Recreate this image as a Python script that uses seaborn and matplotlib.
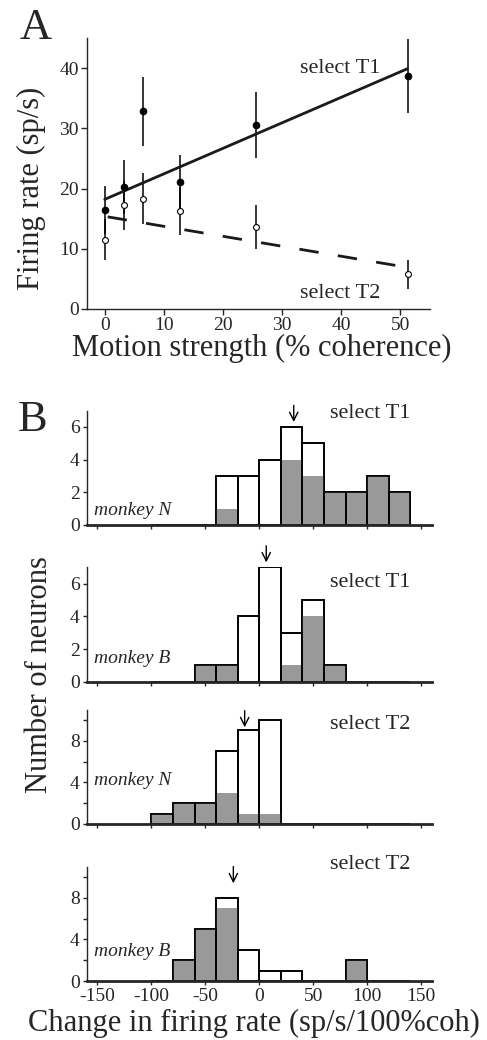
import matplotlib.pyplot as plt
import numpy as np
import seaborn as sns

sns.set_style('ticks')
plt.rcParams['font.family'] = ['Liberation Serif', 'DejaVu Serif']
plt.rcParams['axes.linewidth'] = 1.0

# Panel A: firing rate vs motion strength
coherence = [0, 3.2, 6.4, 12.8, 25.6, 51.2]
rate_t1 = [16.5, 20.3, 32.8, 21.1, 30.6, 38.7]
err_t1 = [4.0, 4.5, 5.8, 4.5, 5.5, 6.2]
rate_t2 = [11.5, 17.2, 18.3, 16.3, 13.6, 5.8]
err_t2 = [3.4, 4.1, 4.2, 4.0, 3.6, 2.4]
fit_x_t1 = [0, 51.2]
fit_y_t1 = [18.2, 39.9]
fit_x_t2 = [0.5, 51.2]
fit_y_t2 = [15.3, 6.9]

# Panel B: histograms of slope (bins of 20 sp/s/100%coh)
bin_edges = [-100, -80, -60, -40, -20, 0, 20, 40, 60, 80, 100, 120, 140]
n_t1_total = [0, 0, 0, 3, 3, 4, 6, 5, 2, 2, 3, 2]
n_t1_gray = [0, 0, 0, 1, 0, 0, 4, 3, 2, 2, 3, 2]
b_t1_total = [0, 0, 1, 1, 4, 7, 3, 5, 1, 0, 0, 0]
b_t1_gray = [0, 0, 1, 1, 0, 0, 1, 4, 1, 0, 0, 0]
n_t2_total = [1, 2, 2, 7, 9, 10, 0, 0, 0, 0, 0, 0]
n_t2_gray = [1, 2, 2, 3, 1, 1, 0, 0, 0, 0, 0, 0]
b_t2_total = [0, 2, 5, 8, 3, 1, 1, 0, 0, 2, 0, 0]
b_t2_gray = [0, 2, 5, 7, 0, 0, 0, 0, 0, 2, 0, 0]
arrow_x = [32, 6.5, -13.5, -24]
arrow_tip = [6.3, 7.3, 9.3, 9.4]
monkeys = ['monkey N', 'monkey B', 'monkey N', 'monkey B']
targets = ['select T1', 'select T1', 'select T2', 'select T2']

GRAY = '#999999'

fig = plt.figure(figsize=(4.87, 10.4), dpi=100)

# ---------------- Panel A ----------------
axA = fig.add_axes([0.1786, 0.7029, 0.7044, 0.2606])
axA.errorbar(coherence, rate_t1, yerr=err_t1, fmt='none', ecolor='black', elinewidth=1.1, capsize=0, zorder=2)
axA.errorbar(coherence, rate_t2, yerr=err_t2, fmt='none', ecolor='black', elinewidth=1.1, capsize=0, zorder=2)
sns.lineplot(x=fit_x_t1, y=fit_y_t1, ax=axA, color='#1a1a1a', linewidth=2.0, zorder=3)
sns.lineplot(x=fit_x_t2, y=fit_y_t2, ax=axA, color='#1a1a1a', linewidth=2.0, zorder=3,
             linestyle=(0, (7, 7)))
sns.scatterplot(x=coherence, y=rate_t1, ax=axA, color='black', s=22, edgecolor='black', linewidth=0.8, zorder=4)
sns.scatterplot(x=coherence, y=rate_t2, ax=axA, color='white', s=18, edgecolor='black', linewidth=0.8, zorder=4)
axA.set_xlim(-3, 55)
axA.set_ylim(0, 45)
axA.set_xticks([0, 10, 20, 30, 40, 50])
axA.set_yticks([0, 10, 20, 30, 40])
axA.tick_params(direction='out', length=4, width=1, labelsize=14, pad=2)
sns.despine(ax=axA)
axA.text(33, 40.0, 'select T1', fontsize=16, ha='left', va='center')
axA.text(33, 2.6, 'select T2', fontsize=16, ha='left', va='center')

fig.text(20 / 487, 1 - 39 / 1040, 'A', fontsize=32, ha='left', va='baseline')
fig.text(262 / 487, 1 - 348 / 1040, 'Motion strength (% coherence)', fontsize=22, ha='center', va='center')
fig.text(31 / 487, 1 - 188 / 1040, 'Firing rate (sp/s)', fontsize=22, ha='center', va='center', rotation=90)

# ---------------- Panel B ----------------
centers = (np.array(bin_edges[:-1]) + np.array(bin_edges[1:])) / 2
hist_rows = [
    (n_t1_total, n_t1_gray, 0.4952, 7, [0, 2, 4, 6], ['0', '2', '4', '6'], 0.13, 0.977),
    (b_t1_total, b_t1_gray, 0.3445, 7, [0, 2, 4, 6], ['0', '2', '4', '6'], 0.205, 0.863),
    (n_t2_total, n_t2_gray, 0.2077, 11, [0, 2, 4, 6, 8, 10], ['0', '', '4', '', '8', ''], 0.38, 0.868),
    (b_t2_total, b_t2_gray, 0.0567, 11, [0, 2, 4, 6, 8, 10], ['0', '', '4', '', '8', ''], 0.256, 1.015),
]

for i, (total, gray, bottom, ytop, yt, ytl, my, ty) in enumerate(hist_rows):
    ax = fig.add_axes([0.178, bottom, 0.7086, 0.11])
    sns.histplot(x=centers, weights=total, bins=bin_edges, ax=ax, color='white',
                 edgecolor='black', linewidth=1.2, alpha=1)
    sns.histplot(x=centers, weights=gray, bins=bin_edges, ax=ax, color=GRAY,
                 edgecolor='none', linewidth=0, alpha=1)
    sns.histplot(x=centers, weights=total, bins=bin_edges, ax=ax, fill=False,
                 color='black', linewidth=1.2)
    ax.set_xlim(-160, 160)
    ax.set_ylim(0, ytop)
    ax.set_xticks([-150, -100, -50, 0, 50, 100, 150])
    ax.set_yticks(yt)
    ax.set_yticklabels(ytl)
    ax.set_xlabel('')
    ax.set_ylabel('')
    ax.tick_params(direction='out', length=3, width=1, labelsize=14, pad=2)
    if i < 3:
        ax.set_xticklabels([])
    else:
        ax.set_xticklabels(['-150', '-100', '-50', '0', '50', '100', '150'])
    sns.despine(ax=ax)
    ax.spines['bottom'].set_linewidth(2.0)
    ax.text(0.022, my, monkeys[i], fontsize=14, style='italic', transform=ax.transAxes,
            ha='left', va='center')
    ax.text(0.705, ty, targets[i], fontsize=16, transform=ax.transAxes, ha='left', va='center')
    ax.annotate('', xy=(arrow_x[i], arrow_tip[i]), xytext=(0, 12), textcoords='offset points',
                arrowprops=dict(arrowstyle='->,head_length=0.6,head_width=0.3', lw=1.0, color='black',
                                shrinkA=0, shrinkB=0),
                annotation_clip=False)

fig.text(18 / 487, 1 - 431 / 1040, 'B', fontsize=32, ha='left', va='baseline')
fig.text(40 / 487, 1 - 675 / 1040, 'Number of neurons', fontsize=22, ha='center', va='center', rotation=90)
fig.text(254 / 487, 1 - 1023 / 1040, 'Change in firing rate (sp/s/100%coh)', fontsize=22,
         ha='center', va='center')

fig.savefig('out.png', dpi=100)
